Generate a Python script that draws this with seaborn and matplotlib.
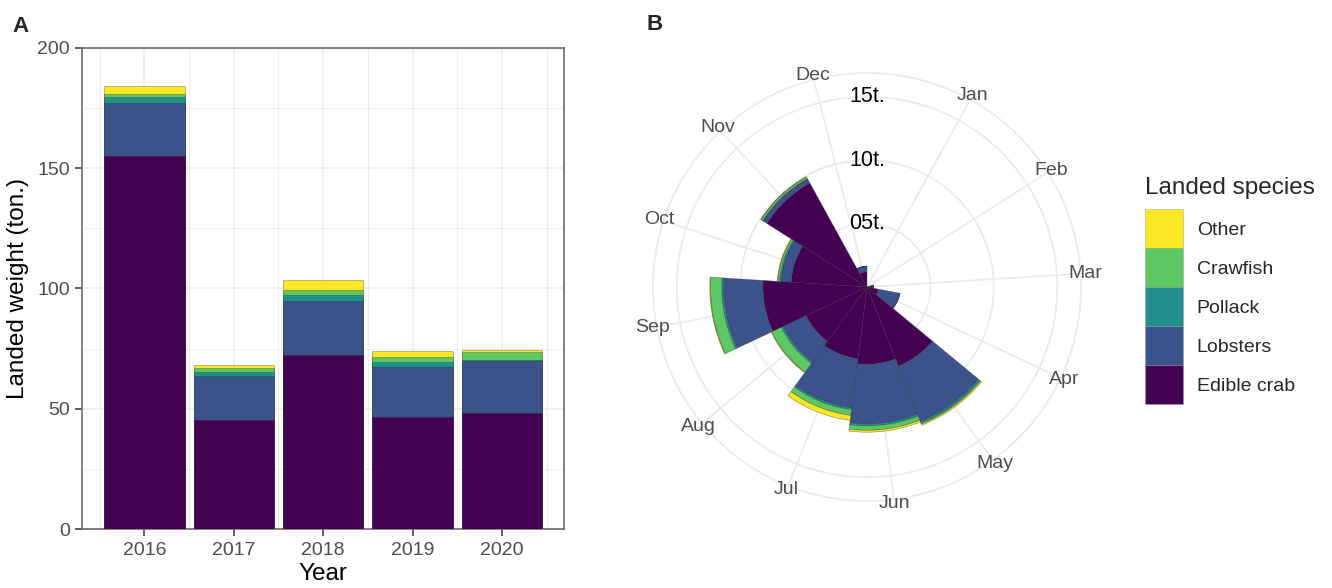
import numpy as np
import matplotlib
matplotlib.use("Agg")
import matplotlib.pyplot as plt
from matplotlib.patches import Patch
from matplotlib.ticker import MultipleLocator, FixedLocator
import seaborn as sns

# ---- data -------------------------------------------------------------
years = ["2016", "2017", "2018", "2019", "2020"]
species = ["Edible crab", "Lobsters", "Pollack", "Crawfish", "Other"]
species_colors = ["#440154", "#3B528B", "#21908C", "#5DC863", "#FDE725"]

# annual landed weight per species (tonnes)
year_crab = [155.0, 45.5, 72.3, 46.5, 48.3]
year_lobsters = [22.2, 18.1, 22.5, 20.7, 21.4]
year_pollack = [2.4, 1.9, 2.4, 2.2, 0.8]
year_crawfish = [1.2, 1.4, 2.0, 2.3, 3.2]
year_other = [3.5, 1.2, 4.4, 2.3, 0.9]

# monthly landed weight per species (tonnes)
months = ["Jan", "Feb", "Mar", "Apr", "May", "Jun",
          "Jul", "Aug", "Sep", "Oct", "Nov", "Dec"]
month_crab = [0.0, 0.0, 0.4, 0.9, 6.7, 6.1, 5.7, 5.3, 8.2, 6.0, 9.35, 1.2]
month_lobsters = [0.0, 0.0, 0.1, 1.7, 4.7, 4.7, 3.9, 2.0, 3.1, 0.8, 0.35, 0.4]
month_pollack = [0.0, 0.0, 0.0, 0.02, 0.15, 0.15, 0.15, 0.15, 0.15, 0.1, 0.05, 0.02]
month_crawfish = [0.0, 0.0, 0.0, 0.02, 0.08, 0.35, 0.45, 0.85, 0.9, 0.15, 0.15, 0.02]
month_other = [0.0, 0.0, 0.0, 0.02, 0.1, 0.15, 0.4, 0.05, 0.05, 0.05, 0.03, 0.0]

ring_values = [5, 10, 15]
ring_labels = ["05t.", "10t.", "15t."]

# ---- style ------------------------------------------------------------
sns.set_theme(style="white")
plt.rcParams["font.family"] = ["Liberation Sans", "DejaVu Sans"]

GRID = "#EBEBEB"
TXT = "#4D4D4D"
EDGE = (0.15, 0.15, 0.15, 0.55)

fig = plt.figure(figsize=(13.32, 5.88), dpi=100)
W, H = 1332, 588

def box(l, t, r, b):
    return [l / W, 1 - b / H, (r - l) / W, (b - t) / H]

# ---- panel A: stacked bars per year -------------------------------------
axA = fig.add_axes(box(82.3, 47.7, 564, 529.3))
year_layers = [year_crab, year_lobsters, year_pollack, year_crawfish, year_other]
year_cum = np.cumsum(np.array(year_layers), axis=0)
# draw the tallest cumulative layer first so lower layers sit on top
for i in range(len(species) - 1, -1, -1):
    sns.barplot(x=years, y=year_cum[i], order=years, color=species_colors[i],
                saturation=1, width=0.9, errorbar=None, ax=axA,
                edgecolor=EDGE, linewidth=0.4, zorder=3)

axA.set_xlim(-0.695, 4.695)
axA.set_ylim(0, 200)
axA.yaxis.set_major_locator(MultipleLocator(50))
axA.yaxis.set_minor_locator(MultipleLocator(25))
axA.xaxis.set_minor_locator(FixedLocator(np.arange(-0.5, 5.0, 1.0)))
axA.set_axisbelow(True)
axA.grid(which="major", color=GRID, linewidth=1.1)
axA.grid(which="minor", color=GRID, linewidth=0.6)
for s in axA.spines.values():
    s.set_color("#6B6B6B")
    s.set_linewidth(1.2)
axA.tick_params(which="major", length=5, width=1.1, color="#333333",
                labelsize=14, labelcolor=TXT, pad=4, bottom=True, left=True)
axA.tick_params(which="minor", length=0)
axA.set_xlabel("Year", fontsize=17.5, color="black")
axA.set_ylabel("Landed weight (ton.)", fontsize=17.5, color="black")
axA.xaxis.set_label_coords(0.5, -0.071)
axA.yaxis.set_label_coords(-0.110, 0.5)

# ---- panel B: monthly coxcomb -----------------------------------------
THETA_SPAN = 12.5
R_OUTER = 15 * 0.45 / 0.4
axB = fig.add_axes(box(653, 73, 1081, 501), projection="polar")
axB.set_theta_zero_location("N")
axB.set_theta_direction(-1)
month_pos = np.arange(1, len(months) + 1)
theta = 2 * np.pi * month_pos / THETA_SPAN
bar_w = 2 * np.pi * 1.0 / THETA_SPAN

month_layers = [month_crab, month_lobsters, month_pollack, month_crawfish, month_other]
bottom = np.zeros(len(months))
for vals, col in zip(month_layers, species_colors):
    vals = np.array(vals)
    axB.bar(theta, vals, width=bar_w, bottom=bottom, color=col,
            edgecolor=EDGE, linewidth=0.4, align="center", zorder=3)
    bottom = bottom + vals

axB.set_ylim(0, R_OUTER)
axB.set_rgrids(ring_values, labels=[""] * len(ring_values))
axB.set_xticks(theta)
axB.set_xticklabels([])
axB.set_axisbelow(True)
axB.grid(color=GRID, linewidth=1.3)
axB.spines["polar"].set_color(GRID)
axB.spines["polar"].set_linewidth(1.3)
axB.tick_params(length=0)
axB.set_facecolor("white")

for t, m in zip(theta, months):
    axB.text(t, R_OUTER * 1.02, m, ha="center", va="center", fontsize=14,
             color=TXT, clip_on=False)
for v, lab in zip(ring_values, ring_labels):
    axB.text(0, v, lab, ha="center", va="center", fontsize=15.5,
             color="black", zorder=5)

# ---- legend ----------------------------------------------------------
handles = [Patch(facecolor=c, edgecolor=(0.6, 0.6, 0.6, 0.6), linewidth=0.5, label=s)
           for s, c in zip(species, species_colors)][::-1]
leg = fig.legend(handles=handles, loc="upper left",
                 bbox_to_anchor=(1145 / W, 1 - 177 / H), frameon=False,
                 title="Landed species", title_fontsize=17.5, fontsize=14,
                 handlelength=1.955, handleheight=2.71, labelspacing=0,
                 handletextpad=0.7, borderpad=0, borderaxespad=0,
                 alignment="left")
# space between the legend title and the keys (points)
leg._legend_box.sep = 7.5

# ---- panel tags --------------------------------------------------------
fig.text(12.7 / W, 1 - 31.5 / H, "A", fontsize=16, fontweight="bold",
         ha="left", va="baseline")
fig.text(646 / W, 1 - 30.5 / H, "B", fontsize=16, fontweight="bold",
         ha="left", va="baseline")

fig.savefig("out.png", dpi=100)
